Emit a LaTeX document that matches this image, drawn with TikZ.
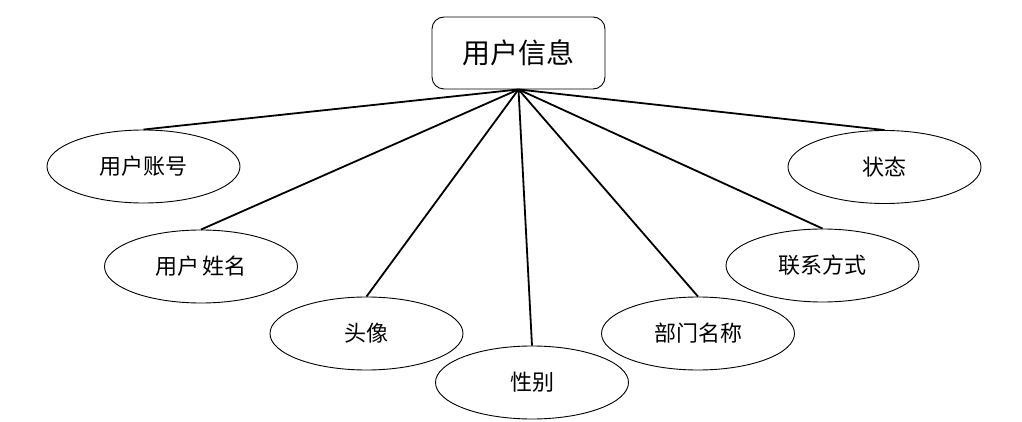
\documentclass[tikz,border=0pt]{standalone}
\usepackage{fontspec}
\newfontfamily\cjk{Noto Sans CJK SC}
\usetikzlibrary{shapes.geometric}
\begin{document}
\begin{tikzpicture}[
            x=1pt,y=-1pt,
            entity/.style={draw,rounded corners=12pt,line width=0.9pt,minimum width=173pt,minimum height=72pt,font=\cjk\fontsize{28}{32}\selectfont},
            attr/.style={draw,ellipse,line width=0.9pt,minimum width=193pt,minimum height=73pt,inner sep=0pt,font=\cjk\fontsize{22}{26}\selectfont},
            link/.style={line width=1.8pt}]
        \useasboundingbox (0,0) rectangle (1022,422);
            % Define vertices
        \node[entity] (user) at (518.5,53) {用户信息};
        \node[attr] (account) at (143.5,166.5) {用户账号};
        \node[attr] (name) at (201,266.5) {用户\,姓名};
        \node[attr] (avatar) at (366.5,333.5) {头像};
        \node[attr] (gender) at (532,382.5) {性别};
        \node[attr] (dept) at (698,333.5) {部门名称};
        \node[attr] (contact) at (822.5,265.5) {联系方式};
        \node[attr] (status) at (884.5,167) {状态};

        % Draw edges
        \path[link]
            (user.south) edge (account.north)
            (user.south) edge (name.north)
            (user.south) edge (avatar.north)
            (user.south) edge (gender.north)
            (user.south) edge (dept.north)
            (user.south) edge (contact.north)
            (user.south) edge (status.north);
        \end{tikzpicture}
\end{document}
